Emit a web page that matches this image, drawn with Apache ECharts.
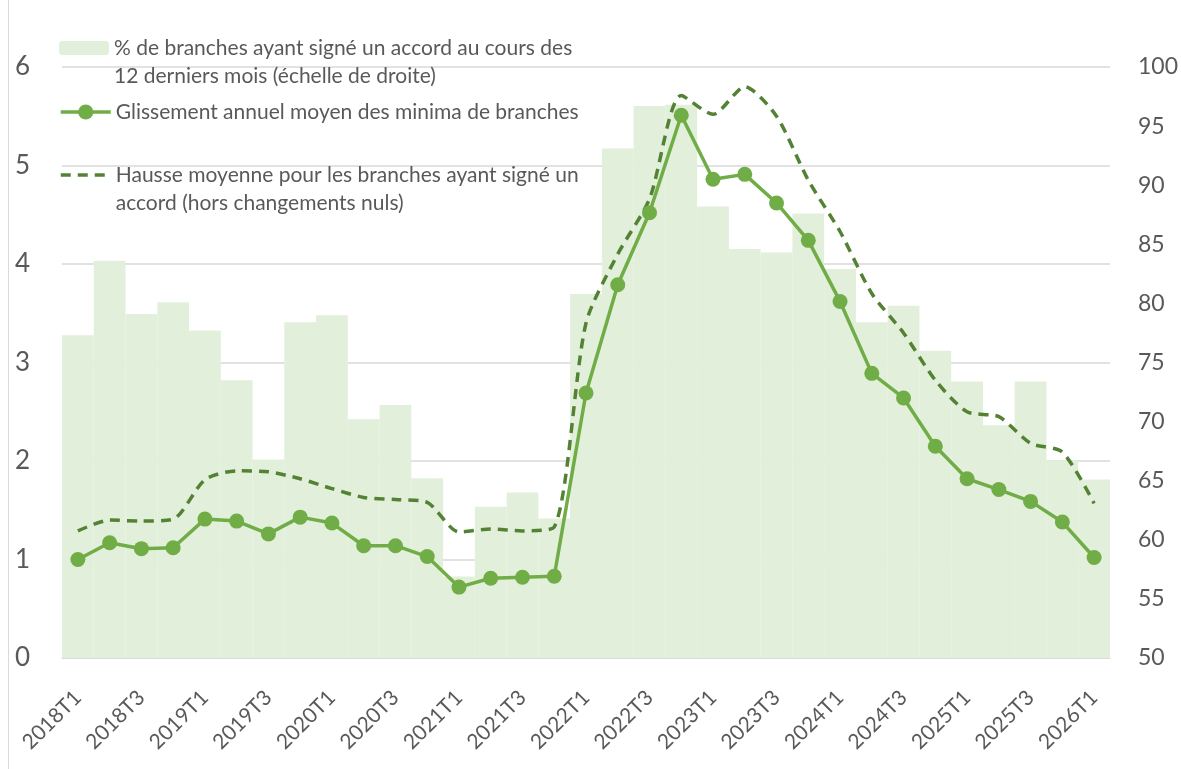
<!DOCTYPE html>
<html lang="fr">
<head>
<meta charset="UTF-8" />
<title>Minima de branches</title>
<script src="https://cdn.jsdelivr.net/npm/echarts@6/dist/echarts.min.js"></script>
<style>
  body { margin: 0; background: #fff; }
  #chart { width: 1181px; height: 769px; }
</style>
</head>
<body>
<div id="chart"></div>
<script>
const categories = [
  '2018T1', '2018T2', '2018T3', '2018T4',
  '2019T1', '2019T2', '2019T3', '2019T4',
  '2020T1', '2020T2', '2020T3', '2020T4',
  '2021T1', '2021T2', '2021T3', '2021T4',
  '2022T1', '2022T2', '2022T3', '2022T4',
  '2023T1', '2023T2', '2023T3', '2023T4',
  '2024T1', '2024T2', '2024T3', '2024T4',
  '2025T1', '2025T2', '2025T3', '2025T4',
  '2026T1'
]

// % de branches ayant signé un accord (échelle de droite)
const shareSigned = [
  77.3, 83.6, 79.1, 80.1, 77.7, 73.5, 66.8, 78.4,
  79.0, 70.2, 71.4, 65.2, 56.9, 62.8, 64.0, 61.8,
  80.8, 93.1, 96.7, 96.8, 88.2, 84.6, 84.3, 87.6,
  82.9, 78.4, 79.8, 76.0, 73.4, 69.7, 73.4, 66.7,
  65.1
]

// glissement annuel moyen des minima
const minimaGrowth = [
  1.00, 1.17, 1.11, 1.12, 1.41, 1.39, 1.26, 1.43,
  1.37, 1.14, 1.14, 1.03, 0.72, 0.81, 0.82, 0.83,
  2.69, 3.79, 4.52, 5.51, 4.86, 4.91, 4.62, 4.24,
  3.62, 2.89, 2.64, 2.15, 1.82, 1.71, 1.59, 1.38,
  1.02
]

// hausse moyenne pour les branches ayant signé
const avgIncrease = [
  1.29, 1.40, 1.39, 1.41, 1.81, 1.90, 1.89, 1.82,
  1.72, 1.63, 1.61, 1.58, 1.28, 1.31, 1.29, 1.33,
  3.40, 4.10, 4.66, 5.71, 5.52, 5.80, 5.50, 4.85,
  4.33, 3.70, 3.30, 2.82, 2.50, 2.45, 2.18, 2.09,
  1.57
]

const leftTicks = [0, 6, 1]
const rightTicks = [50, 100, 5]

const nameBars = '% de branches ayant signé un accord au cours des 12 derniers mois (échelle de droite)'
const nameSolid = 'Glissement annuel moyen des minima de branches'
const nameDashed = 'Hausse moyenne pour les branches ayant signé un accord (hors changements nuls)'
// leading blank line keeps the icon level with the first text line
const legendText = {}
legendText[nameBars] = '\n% de branches ayant signé un accord au cours des\n12 derniers mois (échelle de droite)'
legendText[nameSolid] = 'Glissement annuel moyen des minima de branches'
legendText[nameDashed] = '\nHausse moyenne pour les branches ayant signé un\naccord (hors changements nuls)'

const font = 'Lato, "Open Sans", sans-serif'
const textGrey = '#595959'
const chart = echarts.init(document.getElementById('chart'), null, { renderer: 'canvas' })

const legendCommon = {
  orient: 'vertical',
  left: 59,
  padding: 0,
  itemWidth: 50,
  itemTextGap: 6,
  selectedMode: false,
  lineStyle: { width: 'inherit' },
  textStyle: { color: textGrey, fontSize: 21, lineHeight: 28, fontFamily: font },
  formatter: function (name) { return legendText[name] }
}

const option = {
  animation: false,
  backgroundColor: '#fff',
  textStyle: { fontFamily: font },
  grid: { left: 62, right: 69, top: 67, bottom: 111 },
  graphic: [{
    type: 'line',
    shape: { x1: 8.5, y1: 0, x2: 8.5, y2: 769 },
    style: { stroke: '#d9d9d9', lineWidth: 1 }
  }],
  legend: [
    Object.assign({}, legendCommon, {
      top: 6,
      itemHeight: 14,
      data: [nameBars]
    }),
    Object.assign({}, legendCommon, {
      top: 98,
      itemHeight: 19,
      itemGap: 7,
      data: [nameSolid, { name: nameDashed, itemStyle: { opacity: 0 } }]
    })
  ],
  xAxis: {
    type: 'category',
    data: categories,
    axisTick: { show: false },
    axisLine: { lineStyle: { color: '#d9d9d9', width: 1.5 } },
    axisLabel: {
      interval: 1,
      rotate: 45,
      margin: 36,
      color: textGrey,
      fontSize: 21,
      fontFamily: font
    }
  },
  yAxis: [{
    type: 'value',
    min: leftTicks[0],
    max: leftTicks[1],
    interval: leftTicks[2],
    axisLine: { show: false },
    axisTick: { show: false },
    splitLine: { lineStyle: { color: '#d9d9d9', width: 1.5 } },
    axisLabel: { color: textGrey, fontSize: 26, margin: 32, fontFamily: font }
  }, {
    type: 'value',
    min: rightTicks[0],
    max: rightTicks[1],
    interval: rightTicks[2],
    axisLine: { show: false },
    axisTick: { show: false },
    splitLine: { show: false },
    axisLabel: { color: textGrey, fontSize: 23, margin: 28, fontFamily: font }
  }],
  series: [{
    name: nameBars,
    type: 'bar',
    yAxisIndex: 1,
    barCategoryGap: '0%',
    itemStyle: { color: '#e2efda' },
    data: shareSigned
  }, {
    name: nameSolid,
    type: 'line',
    symbol: 'circle',
    symbolSize: 15,
    lineStyle: { color: '#70ad47', width: 3.5 },
    itemStyle: { color: '#70ad47' },
    data: minimaGrowth
  }, {
    name: nameDashed,
    type: 'line',
    symbol: 'circle',
    symbolSize: 0,
    showSymbol: false,
    smooth: 0.25,
    lineStyle: { color: '#548235', width: 3.5, type: [10, 7] },
    itemStyle: { color: '#548235' },
    data: avgIncrease
  }]
}

chart.setOption(option)
</script>
</body>
</html>
